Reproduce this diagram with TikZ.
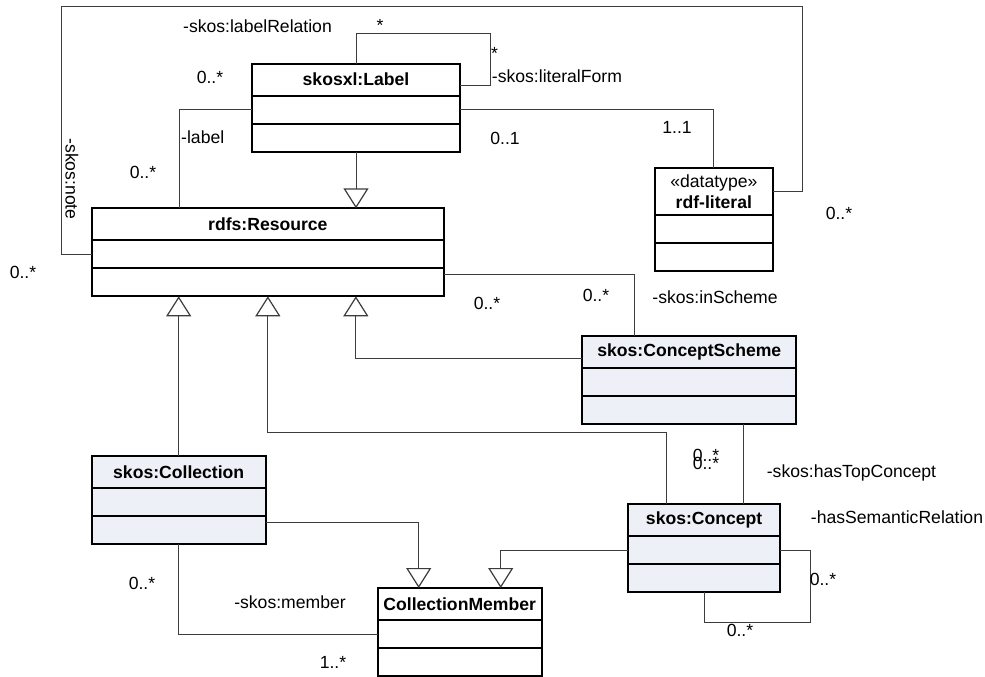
\documentclass[tikz,border=0pt]{standalone}
\usepackage{fontspec}
\setmainfont{Liberation Sans}
\usetikzlibrary{positioning,arrows.meta}
\definecolor{clsfill}{RGB}{237,240,246}
\definecolor{linegray}{RGB}{60,60,60}
\tikzset{
  cls/.style={rectangle, draw, line width=1.8pt, outer sep=0pt, inner sep=0pt, anchor=north west, minimum height=32pt, font={\fontsize{17.6pt}{21pt}\selectfont\bfseries}},
  comp/.style={rectangle, draw, line width=1.8pt, outer sep=0pt, inner sep=0pt, minimum height=28pt},
  mult/.style={inner sep=0pt, text depth=0pt, font={\fontsize{17.6pt}{21pt}\selectfont}},
  assoc/.style={draw=linegray, line width=1pt},
  gen/.style={assoc, -{Triangle[open, width=25pt, length=20pt, line width=1.2pt]}}
}
\begin{document}
\begin{tikzpicture}[x=1pt, y=-1pt]
  \useasboundingbox (0,0) rectangle (985,677);
  % Nodes
  \node (lbl) [cls, minimum width=208.6pt] at (251.7,63.7) {skosxl:Label};
  \node (lbla) [comp, minimum width=208.6pt, below=0pt of lbl] {};
  \node (lblb) [comp, minimum width=208.6pt, below=0pt of lbla] {};
  \node (res) [cls, minimum width=352.3pt] at (91.7,208.3) {rdfs:Resource};
  \node (resa) [comp, minimum width=352.3pt, below=0pt of res] {};
  \node (resb) [comp, minimum width=352.3pt, below=0pt of resa] {};
  \node (lit) [cls, minimum width=117.7pt, minimum height=47.3pt, align=center] at (655,167.7) {{\mdseries «datatype»}\\rdf-literal};
  \node (lita) [comp, minimum width=117.7pt, below=0pt of lit] {};
  \node (litb) [comp, minimum width=117.7pt, below=0pt of lita] {};
  \node (sch) [cls, fill=clsfill, minimum width=214pt] at (582.3,336) {skos:ConceptScheme};
  \node (scha) [comp, fill=clsfill, minimum width=214pt, below=0pt of sch] {};
  \node (schb) [comp, fill=clsfill, minimum width=214pt, below=0pt of scha] {};
  \node (con) [cls, fill=clsfill, minimum width=152.3pt] at (628,504.3) {skos:Concept};
  \node (cona) [comp, fill=clsfill, minimum width=152.3pt, below=0pt of con] {};
  \node (conb) [comp, fill=clsfill, minimum width=152.3pt, below=0pt of cona] {};
  \node (col) [cls, fill=clsfill, minimum width=174pt] at (91.7,456) {skos:Collection};
  \node (cola) [comp, fill=clsfill, minimum width=174pt, below=0pt of col] {};
  \node (colb) [comp, fill=clsfill, minimum width=174pt, below=0pt of cola] {};
  \node (mem) [cls, minimum width=164pt] at (377.7,588) {CollectionMember};
  \node (mema) [comp, minimum width=164pt, below=0pt of mem] {};
  \node (memb) [comp, minimum width=164pt, below=0pt of mema] {};
  % Bends
  \coordinate (notetl) at (61,7);
  \coordinate (notetr) at (802,7);
  \coordinate (lblloop) at (490,33.7);
  \coordinate (conbend) at (450,432.3);
  \coordinate (conloop) at (810.3,622.3);
  % Arrow
  \draw[assoc] (resa.west) -| (notetl) -| (notetr) |- (lit.east);
  \draw[assoc] (lbl.north) |- (lblloop) |- ([yshift=-6pt]lbl.east);
  \draw[assoc] (lbla.east) -| (lit.north);
  \draw[assoc] (lbla.west) -| ([xshift=88pt]res.north west);
  \draw[gen] (lblb.south) -- (lblb.south |- res.north);
  \draw[assoc] ([yshift=8pt]resb.east) -| ([xshift=52pt]sch.north west);
  \draw[gen] (col.north) -- (col.north |- resb.south);
  \draw[gen] ([xshift=38pt]con.north west) |- (conbend) -| (resb.south);
  \draw[gen] ([yshift=-6pt]sch.west) -| ([xshift=88pt]resb.south);
  \draw[assoc] ([xshift=115pt]con.north west) -- ([xshift=115pt]con.north west |- schb.south);
  \draw[assoc] (cona.east) -| (conloop) -| (conb.south);
  \draw[gen] (cona.west) -| ([xshift=41pt]mem.north);
  \draw[gen] ([yshift=8pt]colb.east) -| ([xshift=-41pt]mem.north);
  \draw[assoc] (colb.south) |- (mema.west);
  % Labels
  \node (nrel) [mult] at (257.5,25.7) {-skos:labelRelation};
  \node (nlbl0) [mult] at (210,77) {0..*};
  \node (nstar0) [mult] at (380,25.5) {*};
  \node (nstar1) [mult, anchor=west] at (491,53.5) {*};
  \node (nform) [mult, anchor=west] at (491.7,76) {-skos:literalForm};
  \node (nlabel) [mult, anchor=west] at (181,137) {-label};
  \node (nlbl1) [mult] at (143,172) {0..*};
  \node (nlbl2) [mult] at (505,138) {0..1};
  \node (nlit1) [mult] at (677,127) {1..1};
  \node (nnote) [mult, rotate=-90] at (72,179) {-skos:note};
  \node (nres0) [mult] at (23,272) {0..*};
  \node (nlit0) [mult] at (839,213) {0..*};
  \node (nres1) [mult] at (487,303) {0..*};
  \node (nsch0) [mult] at (596,295) {0..*};
  \node (ninsch) [mult] at (715,297) {-skos:inScheme};
  \node (ntop0) [mult] at (706,455) {0..*};
  \node (ntop1) [mult] at (706,463) {0..*};
  \node (ntopc) [mult] at (851.5,470.7) {-skos:hasTopConcept};
  \node (nsem) [mult] at (897,517) {-hasSemanticRelation};
  \node (ncon0) [mult] at (823,579) {0..*};
  \node (ncon1) [mult] at (740,630) {0..*};
  \node (ncol0) [mult] at (142,583) {0..*};
  \node (nmember) [mult] at (290,602) {-skos:member};
  \node (nmem1) [mult] at (333,662) {1..*};
\end{tikzpicture}
\end{document}
